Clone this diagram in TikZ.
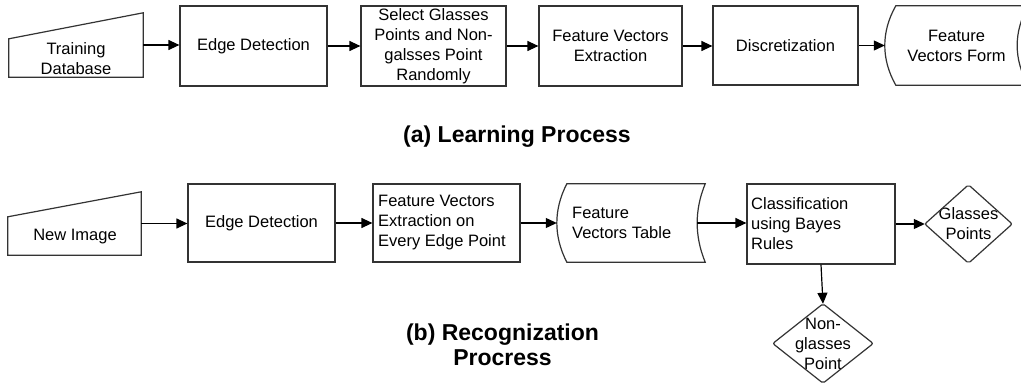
\documentclass[tikz,border=0pt]{standalone}
\usepackage{fontspec}
\setmainfont{Liberation Sans}
\usetikzlibrary{arrows.meta,calc}
\begin{document}
\begin{tikzpicture}[x=1pt,y=-1pt,
  outline/.style={draw=black!80, line width=1.2pt},
  rbox/.style={draw=black!80, line width=1.2pt, inner sep=0pt, align=center, font=\fontsize{16.5}{20}\selectfont},
  ebox/.style={draw=black!80, line width=1.2pt, inner sep=0pt},
  ghost/.style={draw=none, inner sep=0pt},
  txt/.style={inner sep=0pt, align=center, font=\fontsize{16.5}{20}\selectfont},
  ltxt/.style={inner sep=0pt, align=left, anchor=west, font=\fontsize{16.5}{20}\selectfont},
  dia/.style={draw=none, inner sep=0pt, align=center, font=\fontsize{16.5}{20}\selectfont},
  captxt/.style={inner sep=0pt, align=center, font=\fontsize{23}{25}\bfseries\selectfont},
  arr/.style={draw=black, line width=1.2pt, -{Triangle[length=11pt,width=10pt]}}]
\useasboundingbox (0,0) rectangle (1021,385);
\clip (0,0) rectangle (1021,385);
\fill[white] (0,0) rectangle (1021,385);

% ---------- top row ----------
\node[ghost, minimum width=134pt, minimum height=64pt] (train) at (76,45) {};
\draw[outline] (train.south west) -- (train.south east) -- (train.north east) -- ([yshift=-26pt]train.north west) -- cycle;
\node[txt] (traint) at (76,58.5) {Training\\Database};

\node[rbox, minimum width=147pt, minimum height=80pt] (ed1) at (253.5,46) {Edge Detection};
\node[rbox, minimum width=145pt, minimum height=80pt] (sel) at (433.5,46) {Select Glasses\\Points and Non-\\galsses Point\\Randomly};
\node[rbox, minimum width=143pt, minimum height=80pt] (fve) at (610.5,46) {Feature Vectors\\Extraction};
\node[rbox, minimum width=145pt, minimum height=79pt] (disc) at (785.5,45.5) {Discretization};

\node[ghost, minimum width=132pt, minimum height=79pt] (form) at (962,45.5) {};
\draw[outline] (form.north west) .. controls +(-14.7,26) and +(-14.7,-26) .. (form.south west)
  -- (form.south east) .. controls +(-14.7,-26) and +(-14.7,26) .. (form.north east) -- cycle;
\coordinate (formin) at ([xshift=-11pt]form.west);
\node[txt] (formt) at (956.5,45.5) {Feature\\Vectors Form};

\draw[arr] (train.east) -- (train.east -| ed1.west);
\draw[arr] (ed1.east) -- (sel.west);
\draw[arr] (sel.east) -- (fve.west);
\draw[arr] (fve.east) -- (fve.east -| disc.west);
\draw[arr] (disc.east) -- (formin);

\node[captxt] (capa) at (517,137) {(a) Learning Process};

% ---------- bottom row ----------
\node[ghost, minimum width=133pt, minimum height=63pt] (newimg) at (74.5,223.5) {};
\draw[outline] (newimg.south west) -- (newimg.south east) -- (newimg.north east) -- ([yshift=-25pt]newimg.north west) -- cycle;
\node[txt] (newimgt) at (75,237) {New Image};

\node[rbox, minimum width=147pt, minimum height=78pt] (ed2) at (261.5,223) {Edge Detection};

\node[ebox, minimum width=147pt, minimum height=78pt] (fve2) at (446.5,223) {};
\node[ltxt] (fve2t) at (378,223) {Feature Vectors\\Extraction on\\Every Edge Point};

\node[ghost, minimum width=138pt, minimum height=78pt] (table) at (636,223) {};
\draw[outline] (table.north west) .. controls +(-13.3,26) and +(-13.3,-26) .. (table.south west)
  -- (table.south east) .. controls +(-10.7,-26) and +(-10.7,26) .. (table.north east) -- cycle;
\coordinate (tablein) at ([xshift=-10pt]table.west);
\coordinate (tableout) at ([xshift=-8pt]table.east);
\node[ltxt] (tablet) at (572,223) {Feature\\Vectors Table};

\node[ebox, minimum width=148pt, minimum height=80pt] (cls) at (821,224) {};
\node[ltxt] (clst) at (751,224) {Classification\\using Bayes\\Rules};

\node[dia, minimum width=87pt, minimum height=78pt] (gp) at (968.5,224) {Glasses\\Points};
\draw[outline, rounded corners=2pt] (gp.west) -- (gp.north) -- (gp.east) -- (gp.south) -- cycle;

\node[dia, minimum width=100pt, minimum height=79pt] (ngp) at (823,343.5) {Non-\\glasses\\Point};
\draw[outline, rounded corners=2pt] (ngp.west) -- (ngp.north) -- (ngp.east) -- (ngp.south) -- cycle;

\draw[arr] (newimg.east) -- (newimg.east -| ed2.west);
\draw[arr] (ed2.east) -- (fve2.west);
\draw[arr] (fve2.east) -- (tablein);
\draw[arr] (tableout) -- (tableout -| cls.west);
\draw[arr] (cls.east) -- (gp.west);
\draw[arr] (cls.south) -- (ngp.north);

\node[captxt] (capb) at (502.5,345) {(b) Recognization\\Procress};
\end{tikzpicture}
\end{document}
